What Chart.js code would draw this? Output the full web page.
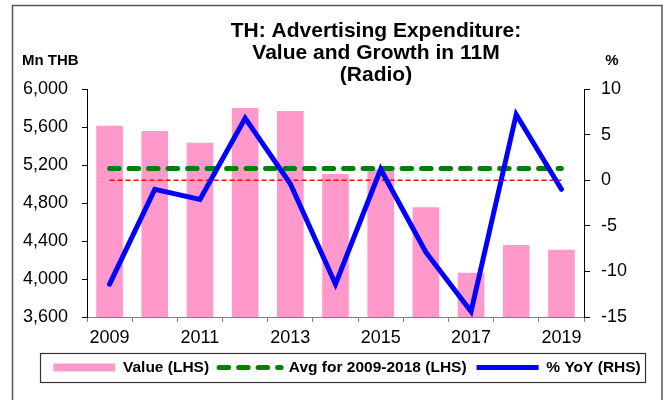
<!DOCTYPE html>
<html>
<head>
<meta charset="utf-8">
<script src="https://cdn.jsdelivr.net/npm/chart.js@4.4.1/dist/chart.umd.min.js"></script>
<style>
  html, body { margin: 0; padding: 0; background: #fff; }
  #wrap { width: 667px; height: 400px; position: relative; }
</style>
</head>
<body>
<div id="wrap"><canvas id="c" width="667" height="400"></canvas></div>
<script>
// ---- data ----
const years = ['2009','2010','2011','2012','2013','2014','2015','2016','2017','2018','2019'];
const valueMnTHB = [5614, 5558, 5435, 5800, 5768, 5105, 5155, 4754, 4066, 4358, 4309];
const avg2009to2018 = [5162, 5162, 5162, 5162, 5162, 5162, 5162, 5162, 5162, 5162, 5162];
const zeroLine = [0, 0, 0, 0, 0, 0, 0, 0, 0, 0, 0];
const yoyPct = [-11.4, -1.0, -2.1, 6.8, -0.4, -11.4, 1.2, -7.9, -14.4, 7.2, -1.0];
const leftTicks = [3600, 4000, 4400, 4800, 5200, 5600, 6000];
const rightTicks = [-15, -10, -5, 0, 5, 10];
const titleLines = ['TH: Advertising Expenditure:', 'Value and Growth in 11M', '(Radio)'];
const legendLabels = ['Value (LHS)', 'Avg for 2009-2018 (LHS)', '% YoY (RHS)'];

const FONT = "'Liberation Sans', Arial, sans-serif";
const PINK = '#FF99CC', GREEN = '#008000', RED = '#FF0000', BLUE = '#0000FF';

const decor = {
  id: 'decor',
  afterLayout(chart) {
    // shift the legend row slightly right, as in the reference
    const lg = chart.legend;
    if (lg) { lg.left += 13.5; lg.right += 13.5; }
  },
  afterDraw(chart) {
    const ctx = chart.ctx;
    ctx.save();
    // outer frame
    ctx.strokeStyle = '#555';
    ctx.lineWidth = 1.5;
    ctx.strokeRect(12.5, 5.5, 649.5, 420);
    // title
    ctx.fillStyle = '#000';
    ctx.textAlign = 'center';
    ctx.textBaseline = 'middle';
    ctx.font = 'bold 21px ' + FONT;
    titleLines.forEach((t, i) => ctx.fillText(t, 376, 31 + i * 22));
    // axis titles
    ctx.font = 'bold 15px ' + FONT;
    ctx.textAlign = 'left';
    ctx.fillText('Mn THB', 22, 61);
    ctx.textAlign = 'center';
    ctx.fillText('%', 612, 61);
    // legend frame
    const lg = chart.legend;
    if (lg && lg.legendHitBoxes && lg.legendHitBoxes.length) {
      const hb = lg.legendHitBoxes;
      const l = hb[0].left - 13;
      const last = hb[hb.length - 1];
      const r = last.left + last.width + 4;
      ctx.strokeStyle = '#333';
      ctx.lineWidth = 1.2;
      ctx.strokeRect(Math.round(l) + 0.5, 353.5, Math.round(r - l), 29);
    }
    ctx.restore();
  }
};

new Chart(document.getElementById('c'), {
  type: 'bar',
  data: {
    labels: years,
    datasets: [
      { type: 'line', label: legendLabels[2], data: yoyPct, yAxisID: 'y1',
        borderColor: BLUE, borderWidth: 5, pointRadius: 0, tension: 0,
        borderJoinStyle: 'miter', borderCapStyle: 'round', fill: false, order: 0 },
      { type: 'line', label: 'zero', data: zeroLine, yAxisID: 'y1',
        borderColor: RED, borderWidth: 1.6, borderDash: [5, 3], pointRadius: 0, fill: false, order: 1 },
      { type: 'line', label: legendLabels[1], data: avg2009to2018, yAxisID: 'y',
        borderColor: GREEN, borderWidth: 5, borderDash: [9.5, 10], borderCapStyle: 'round',
        pointRadius: 0, fill: false, order: 2 },
      { type: 'bar', label: legendLabels[0], data: valueMnTHB, yAxisID: 'y',
        backgroundColor: PINK, borderWidth: 0, categoryPercentage: 1.0, barPercentage: 0.59, order: 3 }
    ]
  },
  options: {
    responsive: false,
    animation: false,
    devicePixelRatio: 1,
    layout: { padding: { left: 0, right: 0, top: 89, bottom: 14.75 } },
    plugins: {
      title: { display: false },
      tooltip: { enabled: false },
      legend: {
        display: true,
        position: 'bottom',
        align: 'center',
        labels: {
          usePointStyle: true,
          pointStyleWidth: 62,
          boxHeight: 8,
          padding: 10,
          color: '#000',
          font: { family: FONT, size: 15.5, weight: 'bold' },
          generateLabels() {
            return [
              { text: legendLabels[0], fillStyle: PINK, strokeStyle: PINK, lineWidth: 0,
                pointStyle: 'rect', datasetIndex: 3, hidden: false, fontColor: '#000' },
              { text: legendLabels[1], fillStyle: GREEN, strokeStyle: GREEN, lineWidth: 5,
                lineDash: [9.5, 10], lineCap: 'round', pointStyle: 'line', datasetIndex: 2, hidden: false, fontColor: '#000' },
              { text: legendLabels[2], fillStyle: BLUE, strokeStyle: BLUE, lineWidth: 5,
                lineCap: 'butt', pointStyle: 'line', datasetIndex: 0, hidden: false, fontColor: '#000' }
            ];
          }
        }
      }
    },
    scales: {
      x: {
        offset: true,
        grid: { display: true, offset: true, drawOnChartArea: false, drawTicks: true, tickLength: 5, color: '#808080' },
        border: { display: true, color: '#808080', width: 1 },
        ticks: {
          autoSkip: false, maxRotation: 0, minRotation: 0, padding: 5, color: '#000',
          font: { family: FONT, size: 18 },
          callback(v, i) { return i % 2 === 0 ? years[i] : ''; }
        },
        afterFit(s) { s.height = 32.75; }
      },
      y: {
        position: 'left',
        min: leftTicks[0], max: leftTicks[leftTicks.length - 1],
        grid: { display: true, drawOnChartArea: false, drawTicks: true, tickLength: 5, color: '#000' },
        border: { display: true, color: '#000', width: 1 },
        afterBuildTicks(s) { s.ticks = leftTicks.map(v => ({ value: v })); },
        ticks: {
          padding: 14, color: '#000', font: { family: FONT, size: 18 },
          callback(v) { return Number(v).toLocaleString('en-US'); }
        },
        afterFit(s) { s.width = 87; }
      },
      y1: {
        position: 'right',
        min: rightTicks[0], max: rightTicks[rightTicks.length - 1],
        grid: { display: true, drawOnChartArea: false, drawTicks: true, tickLength: 6, color: '#000' },
        border: { display: true, color: '#000', width: 1 },
        afterBuildTicks(s) { s.ticks = rightTicks.map(v => ({ value: v })); },
        ticks: {
          padding: 11, color: '#000', font: { family: FONT, size: 18 },
          callback(v) { return String(v); }
        },
        afterFit(s) { s.width = 83; }
      }
    }
  },
  plugins: [decor]
});
</script>
</body>
</html>
